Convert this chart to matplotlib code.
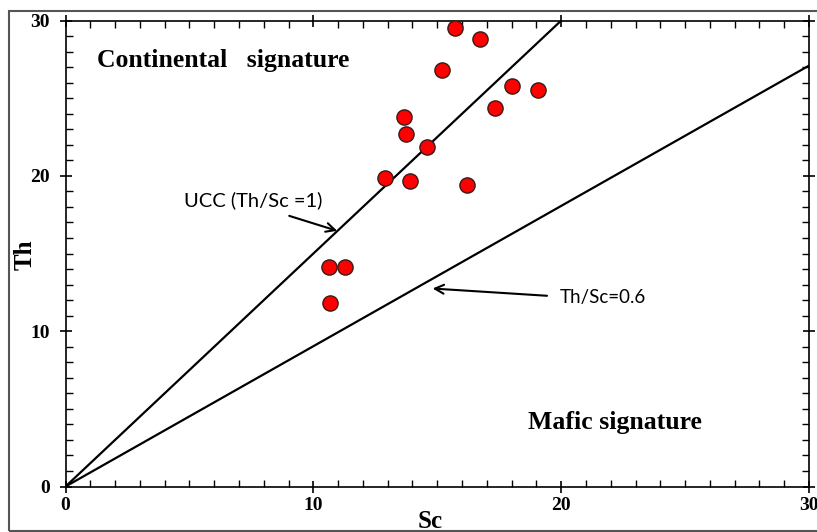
import numpy as np
import matplotlib.pyplot as plt
from matplotlib.patches import Rectangle

# sample data
sc = [15.71, 16.71, 15.19, 18.02, 19.06, 17.32, 13.66, 13.72, 14.59,
      12.88, 13.92, 16.18, 10.62, 11.27, 10.67]
th = [29.50, 28.80, 26.82, 25.79, 25.53, 24.39, 23.81, 22.68, 21.86,
      19.85, 19.69, 19.41, 14.15, 14.15, 11.80]

# reference lines as drawn in the source figure
ucc_x, ucc_y = [0, 20], [0, 30]
low_x, low_y = [0, 30], [0, 27.1]

ticks = [0, 10, 20, 30]

serif = "Liberation Serif"
sans = "Lato"

fig = plt.figure(figsize=(8.17, 5.32), dpi=100)
ax = fig.add_axes([0.0802, 0.0855, 0.9100, 0.8758])

# outer frame around the whole figure
fig.patches.append(Rectangle((9 / 817, 1 / 532), 1.2, 520 / 532, transform=fig.transFigure,
                             fill=False, edgecolor="#555555", lw=1.5))

ax.plot(ucc_x, ucc_y, color="black", lw=1.6, zorder=2)
ax.plot(low_x, low_y, color="black", lw=1.6, zorder=2)
ax.scatter(sc, th, s=120, color="#ff0000", edgecolors="#3a1a1a", linewidths=1.0, zorder=4)

ax.set_xlim(0, 30)
ax.set_ylim(0, 30)
ax.set_xticks(ticks)
ax.set_yticks(ticks)
ax.set_xticks(np.arange(0, 31, 1), minor=True)
ax.set_yticks(np.arange(0, 31, 1), minor=True)
ax.tick_params(which="both", direction="in", top=True, right=True, labeltop=False, labelright=False)
ax.tick_params(which="major", direction="inout", length=9, width=1.2)
ax.tick_params(axis="x", which="major", pad=3)
ax.tick_params(axis="y", which="major", pad=7)
ax.tick_params(which="minor", length=5, width=1.0)
for lab in ax.get_xticklabels() + ax.get_yticklabels():
    lab.set_family(serif)
    lab.set_fontweight("bold")
    lab.set_fontsize(14)
for sp in ax.spines.values():
    sp.set_linewidth(1.2)

fig.text(25 / 817, 1 - 255 / 532, "Th", family=serif, fontweight="bold", fontsize=18,
         rotation=90, ha="center", va="center")
fig.text(430 / 817, 1 - 521 / 532, "Sc", family=serif, fontweight="bold", fontsize=18,
         ha="center", va="center")

ax.text(1.27, 27.4, "Continental   signature", family=serif, fontweight="bold", fontsize=18.5,
        ha="left", va="center")
ax.text(18.65, 4.09, "Mafic signature", family=serif, fontweight="bold", fontsize=18.5,
        ha="left", va="center")

ax.text(7.56, 18.45, "UCC (Th/Sc =1)", family=sans, fontsize=14.5, ha="center", va="center")
ax.annotate("", xy=(11.07, 16.41), xytext=(8.92, 17.48),
            arrowprops=dict(arrowstyle="->", color="black", lw=1.5, mutation_scale=16))
ax.text(19.94, 12.2, "Th/Sc=0.6", family=sans, fontsize=13.5, ha="left", va="center")
ax.annotate("", xy=(14.70, 12.76), xytext=(19.54, 12.27),
            arrowprops=dict(arrowstyle="->", color="black", lw=1.5, mutation_scale=16))

fig.savefig("out.png", dpi=100)
